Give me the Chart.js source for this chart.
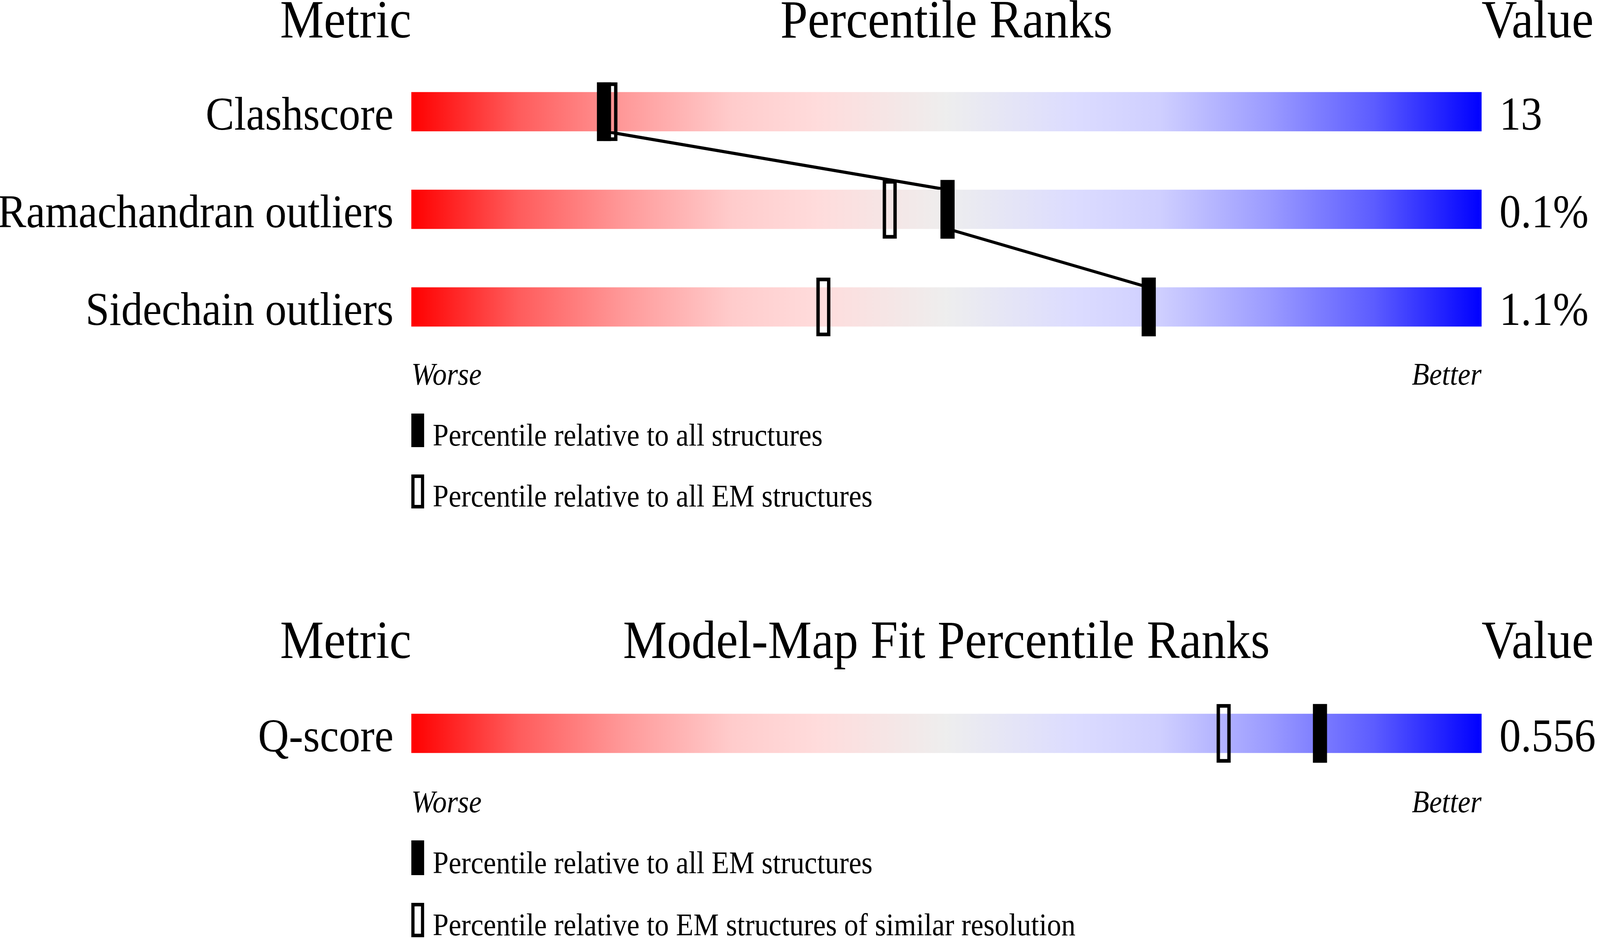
<!DOCTYPE html>
<html>
<head>
<meta charset="utf-8">
<script src="https://cdn.jsdelivr.net/npm/chart.js@4.4.1/dist/chart.umd.min.js"></script>
<style>
  html, body { margin: 0; padding: 0; background: #fff; overflow: hidden; }
  body { position: relative; font-family: 'Liberation Serif', 'Times New Roman', serif; color: #000; }
  #stage { position: absolute; left: 0; top: 0; width: 4485px; height: 2402px; transform-origin: 0 0; background: #fff; }
  .txt { position: absolute; white-space: nowrap; line-height: 1; }
  .swatch { position: absolute; box-sizing: border-box; background: #000; }
  .swatch.open { background: transparent; border: 9px solid #000; }
  canvas { position: absolute; left: 0; }
</style>
</head>
<body>
<div id="stage">
<canvas id="qualityChart" width="4485" height="1050" style="top:10.5px"></canvas>
<canvas id="fitChart" width="4485" height="550" style="top:1602.5px"></canvas>
</div>
<script>
// geometry quality panel
const metrics = ['Clashscore', 'Ramachandran outliers', 'Sidechain outliers'];
const metricValues = ['13', '0.1%', '1.1%'];
const pctAll = [18.0, 50.1, 68.9];   // percentile relative to all structures
const pctEM = [18.6, 44.7, 38.5];    // percentile relative to all EM structures

// model-map fit panel
const fitMetrics = ['Q-score'];
const fitValues = ['0.556'];
const fitPctEM = [84.9];             // relative to all EM structures
const fitPctRes = [75.9];            // relative to EM structures of similar resolution

const FONT = "'Liberation Serif', 'Times New Roman', serif";
const MARK_HALF = 0.65;              // marker half width in percentile units
const BAR_THICK = 100;
const MARK_THICK = 150;
const PAGE_W = 4485, PAGE_H = 2402;

// the browser window may be smaller than 4485x2402 (it caps at 4096 wide),
// so stretch the drawing to whatever viewport we actually get
const stage = document.getElementById('stage');
const vw = window.innerWidth || PAGE_W, vh = window.innerHeight || PAGE_H;
stage.style.transform = 'scale(' + (vw / PAGE_W) + ',' + (vh / PAGE_H) + ')';
document.body.style.width = vw + 'px';
document.body.style.height = vh + 'px';

function sliderGradient(ctx) {
    const area = ctx.chart.chartArea;
    if (!area) return '#eee';
    const g = ctx.chart.ctx.createLinearGradient(area.left, 0, area.right, 0);
    g.addColorStop(0, '#ff0000');
    g.addColorStop(0.1, '#ff5c5c');
    g.addColorStop(0.2, '#ff9a9a');
    g.addColorStop(0.3, '#ffcccc');
    g.addColorStop(0.38, '#ffdcdc');
    g.addColorStop(0.5, '#eeeeee');
    g.addColorStop(0.62, '#dcdcff');
    g.addColorStop(0.7, '#cfcfff');
    g.addColorStop(0.8, '#9c9cff');
    g.addColorStop(0.9, '#5c5cff');
    g.addColorStop(1, '#0000ff');
    return g;
}

// joins the filled markers from the bottom of one bar to the top of the next
const connectorPlugin = {
    id: 'connector',
    beforeDatasetsDraw(chart, args, opts) {
        if (!opts.points || opts.points.length < 2) return;
        const x = chart.scales.x, y = chart.scales.y;
        const c = chart.ctx;
        c.save();
        c.strokeStyle = '#000';
        c.lineWidth = 8;
        c.beginPath();
        for (let i = 0; i < opts.points.length - 1; i++) {
            c.moveTo(x.getPixelForValue(opts.points[i]), y.getPixelForValue(i) + BAR_THICK / 2);
            c.lineTo(x.getPixelForValue(opts.points[i + 1]), y.getPixelForValue(i + 1) - BAR_THICK / 2);
        }
        c.stroke();
        c.restore();
    }
};

function drawPanel(canvasId, labels, valueLabels, filled, open) {
    const tickFont = { family: FONT, size: 120 };
    return new Chart(document.getElementById(canvasId), {
        type: 'bar',
        data: {
            labels: labels,
            datasets: [
                {
                    data: filled.map(p => [p - MARK_HALF, p + MARK_HALF]),
                    backgroundColor: '#000',
                    borderWidth: 0,
                    barThickness: MARK_THICK,
                    grouped: false
                },
                {
                    data: open.map(p => [p - MARK_HALF, p + MARK_HALF]),
                    backgroundColor: 'rgba(0,0,0,0)',
                    borderColor: '#000',
                    borderWidth: 9,
                    borderSkipped: false,
                    barThickness: MARK_THICK,
                    grouped: false
                },
                {
                    data: labels.map(() => 100),
                    backgroundColor: sliderGradient,
                    borderWidth: 0,
                    barThickness: BAR_THICK,
                    grouped: false
                }
            ]
        },
        options: {
            indexAxis: 'y',
            responsive: false,
            animation: false,
            devicePixelRatio: 1,
            layout: { padding: { top: 150, bottom: 150, left: 0, right: 0 } },
            plugins: {
                legend: { display: false },
                tooltip: { enabled: false },
                connector: { points: filled }
            },
            scales: {
                x: { type: 'linear', min: 0, max: 100, display: false },
                y: {
                    type: 'category',
                    position: 'left',
                    offset: true,
                    grid: { display: false, drawTicks: false },
                    border: { display: false },
                    ticks: { font: tickFont, color: '#000', padding: 50, labelOffset: 14, autoSkip: false },
                    afterFit: s => { s.width = 1153; }
                },
                y2: {
                    type: 'category',
                    position: 'right',
                    offset: true,
                    grid: { display: false, drawTicks: false },
                    border: { display: false },
                    ticks: {
                        font: tickFont, color: '#000', padding: 50, labelOffset: 14, autoSkip: false,
                        callback: (v, i) => valueLabels[i]
                    },
                    afterFit: s => { s.width = 332; }
                }
            }
        },
        plugins: [connectorPlugin]
    });
}

// text placed by its baseline (line-height 1, Liberation Serif ascent .891 / descent .216)
function addText(text, x, baseline, size, align, italic) {
    const el = document.createElement('div');
    el.className = 'txt';
    el.textContent = text;
    el.style.fontSize = size + 'px';
    if (italic) el.style.fontStyle = 'italic';
    el.style.top = (baseline - 0.8375 * size) + 'px';
    if (align === 'right') {
        el.style.right = (PAGE_W - x) + 'px';
    } else if (align === 'center') {
        el.style.left = x + 'px';
        el.style.transform = 'translateX(-50%)';
    } else {
        el.style.left = x + 'px';
    }
    stage.appendChild(el);
}

function addSwatch(top, height, open) {
    const el = document.createElement('div');
    el.className = 'swatch' + (open ? ' open' : '');
    el.style.left = '1153px';
    el.style.top = top + 'px';
    el.style.width = '36px';
    el.style.height = height + 'px';
    stage.appendChild(el);
}

const BAR_LEFT = 1153, BAR_RIGHT = 4153, BAR_MID = 2653;

// geometry panel texts
addText('Metric', BAR_LEFT, 97, 138, 'right');
addText('Percentile Ranks', BAR_MID, 97, 138, 'center');
addText('Value', BAR_RIGHT, 97, 138, 'left');
addText('Worse', BAR_LEFT, 985, 80, 'left', true);
addText('Better', BAR_RIGHT, 985, 80, 'right', true);
addSwatch(1059, 86, false);
addText('Percentile relative to all structures', 1213, 1141, 80, 'left');
addSwatch(1215, 87, true);
addText('Percentile relative to all EM structures', 1213, 1297, 80, 'left');

// fit panel texts
addText('Metric', BAR_LEFT, 1686, 138, 'right');
addText('Model-Map Fit Percentile Ranks', BAR_MID, 1686, 138, 'center');
addText('Value', BAR_RIGHT, 1686, 138, 'left');
addText('Worse', BAR_LEFT, 2080, 80, 'left', true);
addText('Better', BAR_RIGHT, 2080, 80, 'right', true);
addSwatch(2152, 89, false);
addText('Percentile relative to all EM structures', 1213, 2236, 80, 'left');
addSwatch(2312, 88, true);
addText('Percentile relative to EM structures of similar resolution', 1213, 2395, 80, 'left');

drawPanel('qualityChart', metrics, metricValues, pctAll, pctEM);
drawPanel('fitChart', fitMetrics, fitValues, fitPctEM, fitPctRes);
</script>
</body>
</html>
